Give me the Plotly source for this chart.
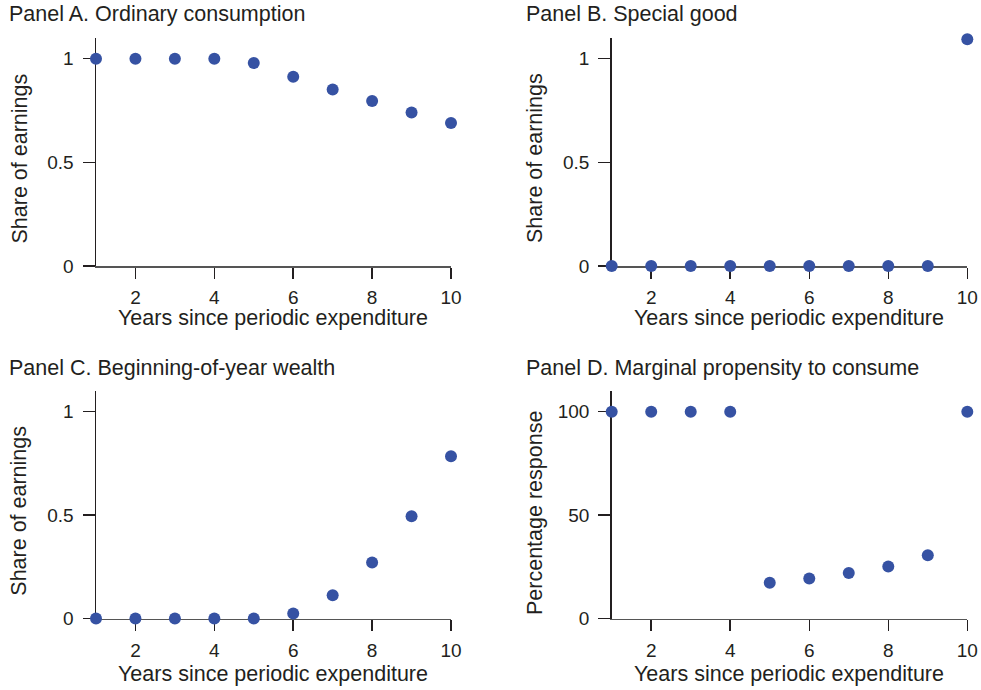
import plotly.graph_objects as go

years = [1, 2, 3, 4, 5, 6, 7, 8, 9, 10]
ordinary_consumption = [1.0, 1.0, 1.0, 1.0, 0.979, 0.913, 0.852, 0.796, 0.741, 0.690]
special_good = [0, 0, 0, 0, 0, 0, 0, 0, 0, 1.094]
wealth = [0, 0, 0, 0, 0, 0.024, 0.112, 0.271, 0.494, 0.785]
mpc = [100, 100, 100, 100, 17.3, 19.3, 22.0, 25.1, 30.6, 100]

panel_titles = ["Panel A. Ordinary consumption", "Panel B. Special good",
                "Panel C. Beginning-of-year wealth", "Panel D. Marginal propensity to consume"]
y_titles = ["Share of earnings", "Share of earnings", "Share of earnings", "Percentage response"]
x_title = "Years since periodic expenditure"
x_ticks = [2, 4, 6, 8, 10]
y_ticks_share = [0, 0.5, 1]
y_ticklabels_share = ["0", "0.5", "1"]
y_ticks_pct = [0, 50, 100]
y_ticklabels_pct = ["0", "50", "100"]

W, H = 981, 690
TXT = "#231f20"
DOT = "#3652a3"
FONT = "Liberation Sans"


def px(x):
    return x / W


def py(y):
    return 1 - y / H


# pixel geometry of each panel: (left, right, top, bottom)
boxes = [(96, 451, 38, 266), (611.7, 967.3, 38, 266),
         (96, 451, 391, 618.5), (611.7, 967.3, 391, 618.5)]
series = [ordinary_consumption, special_good, wealth, mpc]

fig = go.Figure()
layout = dict(width=W, height=H, margin=dict(l=0, r=0, t=0, b=0, pad=0, autoexpand=False),
              paper_bgcolor="white", plot_bgcolor="white", showlegend=False,
              font=dict(family=FONT, color=TXT))
annotations = []
for i, (box, ys) in enumerate(zip(boxes, series)):
    n = "" if i == 0 else str(i + 1)
    l, r, t, b = box
    fig.add_trace(go.Scatter(x=years, y=ys, mode="markers", xaxis="x" + n, yaxis="y" + n,
                             marker=dict(size=12, color=DOT, line=dict(width=0)),
                             cliponaxis=False, hoverinfo="skip"))
    pct = i == 3
    layout["xaxis" + n] = dict(domain=[px(l), px(r)], range=[1, 10], anchor="y" + n,
                               tickvals=x_ticks, ticktext=[str(v) for v in x_ticks],
                               ticks="outside", ticklen=11, tickwidth=1.5, tickcolor=TXT,
                               showline=True, linecolor="#555555", linewidth=1.5,
                               showgrid=False, zeroline=False, layer="below traces",
                               tickfont=dict(size=19, color=TXT, family=FONT),
                               ticklabelstandoff=3, fixedrange=True, automargin=False)
    layout["yaxis" + n] = dict(domain=[py(b), py(t)],
                               range=[0, 110] if pct else [0, 1.1], anchor="x" + n,
                               tickvals=y_ticks_pct if pct else y_ticks_share,
                               ticktext=y_ticklabels_pct if pct else y_ticklabels_share,
                               ticks="outside", ticklen=12, tickwidth=1.5, tickcolor=TXT,
                               showline=True, linecolor=TXT, linewidth=1.5,
                               showgrid=False, zeroline=False, layer="below traces",
                               tickfont=dict(size=19, color=TXT, family=FONT),
                               ticklabelstandoff=5, fixedrange=True, automargin=False)
    # panel title
    tx = 7 if i % 2 == 0 else 524
    ty = 14 if i < 2 else 368
    annotations.append(dict(text=panel_titles[i], x=px(tx), y=py(ty), xref="paper", yref="paper",
                            xanchor="left", yanchor="middle", showarrow=False,
                            font=dict(size=21.5, color=TXT, family=FONT)))
    # x axis title
    xt_x = 273 if i % 2 == 0 else 789
    xt_y = 317.5 if i < 2 else 674
    annotations.append(dict(text=x_title, x=px(xt_x), y=py(xt_y), xref="paper", yref="paper",
                            xanchor="center", yanchor="middle", showarrow=False,
                            font=dict(size=21.5, color=TXT, family=FONT)))
    # y axis title
    yt_x = 19 if i % 2 == 0 else 534.5
    yt_y = [158.5, 158.5, 510.7, 513.5][i]
    annotations.append(dict(text=y_titles[i], x=px(yt_x), y=py(yt_y), xref="paper", yref="paper",
                            xanchor="center", yanchor="middle", textangle=-90, showarrow=False,
                            font=dict(size=21.5, color=TXT, family=FONT)))

layout["annotations"] = annotations
fig.update_layout(**layout)
fig.write_html("out.html", config=dict(displayModeBar=False, staticPlot=True),
               post_script="document.body.style.margin='0';document.body.style.overflow='hidden';")
